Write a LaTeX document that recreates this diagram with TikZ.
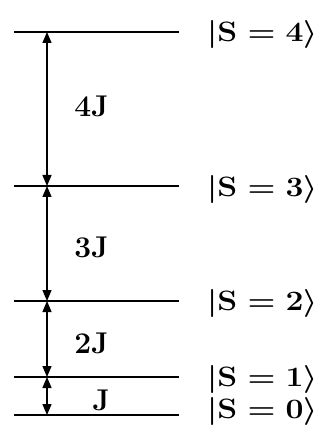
\RequirePackage{fix-cm}
\documentclass[tikz,border=0pt]{standalone}
\usetikzlibrary{arrows.meta}
\newcommand{\ketlabel}[1]{\scalebox{1.14}[1]{$|\mathbf{S}=\mathbf{#1}\rangle$}}
\begin{document}
\begin{tikzpicture}[x=1pt,y=-1pt,
  level/.style={line width=1.6pt},
  gap/.style={line width=1.4pt,{Triangle[length=11pt,width=9pt]}-{Triangle[length=11pt,width=9pt]}},
  statelabel/.style={anchor=west,inner sep=0pt,font=\fontsize{28}{32}\selectfont\boldmath},
  gaplabel/.style={inner sep=0pt,font=\fontsize{30}{34}\selectfont\bfseries}]
\useasboundingbox (0,0) rectangle (329,427);
\coordinate (l4a) at (14,32);  \coordinate (l4b) at (179,32);
\coordinate (l3a) at (14,186); \coordinate (l3b) at (179,186);
\coordinate (l2a) at (14,301); \coordinate (l2b) at (179,301);
\coordinate (l1a) at (14,377); \coordinate (l1b) at (179,377);
\coordinate (l0a) at (14,415); \coordinate (l0b) at (179,415);
\draw[level] (l4a) -- (l4b);
\draw[level] (l3a) -- (l3b);
\draw[level] (l2a) -- (l2b);
\draw[level] (l1a) -- (l1b);
\draw[level] (l0a) -- (l0b);
\coordinate (a4) at (47,32);
\coordinate (a3) at (47,186);
\coordinate (a2) at (47,301);
\coordinate (a1) at (47,377);
\coordinate (a0) at (47,415);
\draw[gap] (a4) -- (a3);
\draw[gap] (a3) -- (a2);
\draw[gap] (a2) -- (a1);
\draw[gap] (a1) -- (a0);
\node[gaplabel] (g4) at (91.5,106) {4J};
\node[gaplabel] (g3) at (91.5,247) {3J};
\node[gaplabel] (g2) at (91.5,343) {2J};
\node[gaplabel] (g1) at (101,400) {J};
\node[statelabel] (s4) at (207,34.5) {\ketlabel{4}};
\node[statelabel] (s3) at (207,189.5) {\ketlabel{3}};
\node[statelabel] (s2) at (207,303.5) {\ketlabel{2}};
\node[statelabel] (s1) at (207,379) {\ketlabel{1}};
\node[statelabel] (s0) at (207,411.5) {\ketlabel{0}};
\end{tikzpicture}
\end{document}
